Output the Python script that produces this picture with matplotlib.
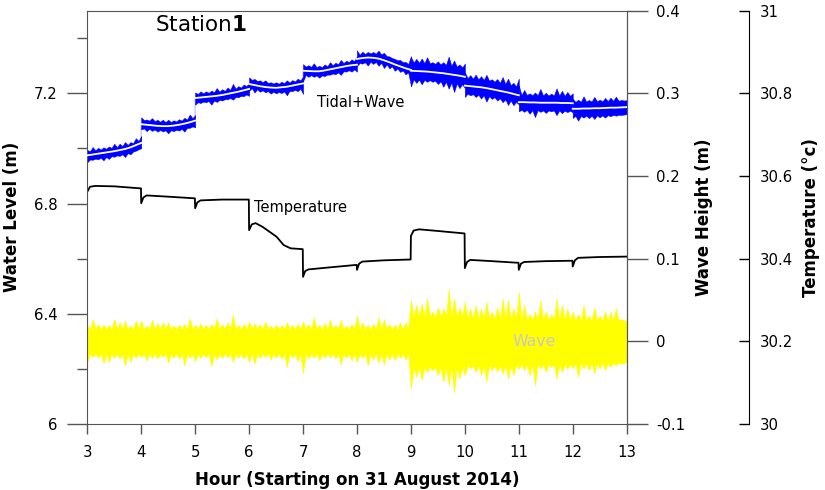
import numpy as np
import matplotlib
matplotlib.use("Agg")
import matplotlib.pyplot as plt

plt.rcParams['font.family'] = ['DejaVu Sans']
plt.rcParams['mathtext.fontset'] = 'dejavusans'

# hourly sample grid, 3h .. 13h every 0.1h
hours = np.linspace(3, 13, 101)

# wave envelope (m), upper and lower extremes per 0.1h
wave_hi = [0.019, 0.027, 0.021, 0.020, 0.020, 0.027, 0.023, 0.025, 0.019, 0.025,
           0.025, 0.019, 0.026, 0.022, 0.023, 0.023, 0.019, 0.020, 0.021, 0.028,
           0.020, 0.022, 0.020, 0.021, 0.028, 0.021, 0.023, 0.032, 0.020, 0.021,
           0.024, 0.022, 0.021, 0.024, 0.019, 0.020, 0.020, 0.023, 0.020, 0.021,
           0.024, 0.021, 0.029, 0.020, 0.022, 0.026, 0.020, 0.026, 0.019, 0.021,
           0.031, 0.023, 0.020, 0.021, 0.029, 0.027, 0.021, 0.020, 0.023, 0.023,
           0.050, 0.044, 0.046, 0.052, 0.036, 0.041, 0.040, 0.063, 0.052, 0.041,
           0.048, 0.040, 0.044, 0.040, 0.048, 0.036, 0.041, 0.052, 0.050, 0.040,
           0.060, 0.044, 0.033, 0.036, 0.050, 0.036, 0.033, 0.052, 0.044, 0.040,
           0.036, 0.033, 0.044, 0.031, 0.041, 0.031, 0.036, 0.036, 0.040, 0.027,
           0.025]
wave_lo = [-0.025, -0.019, -0.020, -0.027, -0.025, -0.020, -0.021, -0.029, -0.025, -0.020,
           -0.019, -0.023, -0.020, -0.021, -0.019, -0.026, -0.020, -0.021, -0.029, -0.020,
           -0.024, -0.020, -0.019, -0.030, -0.022, -0.020, -0.019, -0.025, -0.020, -0.021,
           -0.025, -0.027, -0.020, -0.019, -0.022, -0.020, -0.021, -0.031, -0.020, -0.024,
           -0.038, -0.021, -0.020, -0.023, -0.020, -0.019, -0.021, -0.028, -0.020, -0.023,
           -0.025, -0.020, -0.029, -0.022, -0.026, -0.028, -0.022, -0.023, -0.020, -0.022,
           -0.057, -0.043, -0.047, -0.037, -0.035, -0.041, -0.049, -0.053, -0.062, -0.045,
           -0.041, -0.033, -0.037, -0.041, -0.049, -0.035, -0.037, -0.039, -0.045, -0.041,
           -0.033, -0.035, -0.041, -0.053, -0.033, -0.037, -0.031, -0.045, -0.037, -0.033,
           -0.033, -0.043, -0.033, -0.035, -0.039, -0.033, -0.035, -0.031, -0.029, -0.027,
           -0.025]

# typical wave level between the spikes, one value per hour
core_hi = [0.015, 0.015, 0.015, 0.015, 0.015, 0.015, 0.030, 0.027, 0.026, 0.025]
core_lo = [-0.015, -0.015, -0.015, -0.015, -0.015, -0.015, -0.031, -0.029, -0.028, -0.026]

# tidal water level (m), one list per logged hour, sampled every 0.1h
tide = [
    [6.975, 6.978, 6.981, 6.984, 6.987, 6.990, 6.994, 6.998, 7.004, 7.012, 7.020],
    [7.088, 7.086, 7.084, 7.082, 7.081, 7.081, 7.083, 7.086, 7.090, 7.095, 7.101],
    [7.183, 7.185, 7.187, 7.189, 7.191, 7.194, 7.198, 7.202, 7.206, 7.211, 7.216],
    [7.234, 7.230, 7.226, 7.223, 7.221, 7.220, 7.222, 7.224, 7.228, 7.232, 7.236],
    [7.282, 7.281, 7.280, 7.280, 7.283, 7.287, 7.291, 7.295, 7.299, 7.302, 7.304],
    [7.325, 7.328, 7.330, 7.329, 7.326, 7.320, 7.313, 7.305, 7.298, 7.291, 7.285],
    [7.282, 7.281, 7.280, 7.279, 7.277, 7.275, 7.273, 7.270, 7.267, 7.264, 7.260],
    [7.228, 7.226, 7.224, 7.222, 7.219, 7.215, 7.211, 7.207, 7.203, 7.198, 7.193],
    [7.168, 7.168, 7.167, 7.167, 7.166, 7.166, 7.166, 7.166, 7.165, 7.165, 7.164],
    [7.144, 7.144, 7.145, 7.145, 7.146, 7.146, 7.147, 7.148, 7.148, 7.149, 7.150],
]

# water temperature (deg C)
temp_t = [3.0, 3.05, 3.15, 3.5, 3.995,
          4.0, 4.04, 4.1, 4.5, 4.995,
          5.0, 5.04, 5.1, 5.5, 5.995,
          6.0, 6.05, 6.12, 6.25, 6.38, 6.51, 6.64, 6.77, 6.995,
          7.0, 7.04, 7.1, 7.5, 7.995,
          8.0, 8.04, 8.1, 8.5, 8.995,
          9.0, 9.05, 9.15, 9.5, 9.995,
          10.0, 10.04, 10.1, 10.5, 10.995,
          11.0, 11.04, 11.1, 11.5, 11.995,
          12.0, 12.04, 12.1, 12.5, 13.0]
temp_v = [30.562, 30.574, 30.576, 30.575, 30.570,
          30.534, 30.548, 30.553, 30.550, 30.546,
          30.522, 30.536, 30.541, 30.543, 30.543,
          30.469, 30.483, 30.486, 30.477, 30.465, 30.453, 30.433, 30.425, 30.423,
          30.356, 30.370, 30.374, 30.379, 30.385,
          30.373, 30.388, 30.393, 30.396, 30.398,
          30.455, 30.468, 30.471, 30.467, 30.461,
          30.377, 30.392, 30.397, 30.394, 30.390,
          30.373, 30.388, 30.392, 30.394, 30.395,
          30.381, 30.396, 30.402, 30.404, 30.405]

level_ticks = [6, 6.4, 6.8, 7.2]
level_labels = ['6', '6.4', '6.8', '7.2']
level_minor = [6.2, 6.6, 7.0, 7.4]
wave_ticks = [-0.1, 0, 0.1, 0.2, 0.3, 0.4]
wave_labels = ['-0.1', '0', '0.1', '0.2', '0.3', '0.4']
temp_ticks = [30, 30.2, 30.4, 30.6, 30.8, 31]
temp_labels = ['30', '30.2', '30.4', '30.6', '30.8', '31']
hour_ticks = list(range(3, 14))

frame = '#555555'
fs = 10.7


def spiky(x, peaks, base, offset):
    # spikes at the samples, dropping back to the typical level in between
    xs, ys = [], []
    for i in range(len(x)):
        xs.append(x[i])
        ys.append(offset[i] + peaks[i])
        if i < len(x) - 1:
            xs.append(0.5 * (x[i] + x[i + 1]))
            ys.append(offset[i] + base[i])
    return np.array(xs), np.array(ys)


hour_idx = np.minimum(np.floor(hours - 3 + 1e-9).astype(int), 9)
base_hi = np.array(core_hi)[hour_idx]
base_lo = np.array(core_lo)[hour_idx]
zero = np.zeros(len(hours))

fig = plt.figure(figsize=(8.25, 4.9), dpi=100)
ax = fig.add_axes([0.1058, 0.1347, 0.6538, 0.8435])
ax2 = ax.twinx()
ax3 = ax.twinx()
ax.set_zorder(3)
ax.patch.set_visible(False)

# wave height (yellow) on the first right axis
xu, yu = spiky(hours, wave_hi, base_hi, zero)
xl, yl = spiky(hours, wave_lo, base_lo, zero)
ax2.fill_between(xu, yl, yu, color='#ffff00', lw=0.4, edgecolor='#ffff00')
ax2.text(10.88, 0.0, 'Wave', color='#c8c8c8', fontsize=11.3, va='center')

# temperature on the outer right axis
ax3.plot(temp_t, temp_v, color='black', lw=1.3)

# tidal + wave signal with the tidal trend in white
jt, jv = [], []
for k, seg in enumerate(tide):
    sl = slice(10 * k, 10 * k + 11)
    x = hours[sl]
    seg = np.array(seg)
    xu, yu = spiky(x, wave_hi[sl], base_hi[sl], seg)
    xl, yl = spiky(x, wave_lo[sl], base_lo[sl], seg)
    ax.fill_between(xu, yl, yu, color='#0000ff', lw=0.4, edgecolor='#0000ff', zorder=2)
    ax.plot(x, seg, color='white', lw=1.3, zorder=4)
    jt.extend(x)
    jv.extend(seg)
ax.plot(jt, jv, color='#c8c8ff', lw=1, zorder=1)

ax.text(7.25, 7.167, 'Tidal+Wave', fontsize=10.5, va='center')
ax.text(6.10, 6.785, 'Temperature', fontsize=10.5, va='center')
ax.text(4.25, 7.447, r'Station$\mathbf{1}$', fontsize=15.5, va='center')

# main axis: water level
ax.set_xlim(3, 13)
ax.set_ylim(6, 7.5)
ax.set_xticks(hour_ticks)
ax.set_xticklabels([str(h) for h in hour_ticks], fontsize=fs)
ax.set_yticks(level_ticks)
ax.set_yticklabels(level_labels, fontsize=fs)
ax.set_yticks(level_minor, minor=True)
ax.tick_params(axis='y', which='major', length=14.5, width=1, color=frame, pad=7)
ax.tick_params(axis='y', which='minor', length=7, width=1, color=frame)
ax.tick_params(axis='x', which='major', length=7, width=1, color=frame, pad=8)
ax.set_xlabel('Hour (Starting on 31 August 2014)', fontsize=12, fontweight='bold', labelpad=8)
ax.set_ylabel('Water Level (m)', fontsize=12, fontweight='bold', labelpad=9)
for s in ax.spines.values():
    s.set_color(frame)

ax2.set_ylim(-0.1, 0.4)
ax2.set_yticks(wave_ticks)
ax2.set_yticklabels(wave_labels, fontsize=fs)
ax2.tick_params(axis='y', length=15, width=1, color=frame, pad=6)
ax2.set_ylabel('Wave Height (m)', fontsize=12, fontweight='bold', labelpad=7)
for name in ['top', 'left', 'bottom']:
    ax2.spines[name].set_visible(False)
ax2.spines['right'].set_color(frame)

ax3.set_ylim(30, 31)
ax3.spines['right'].set_position(('axes', 1.2267))
for name in ['top', 'left', 'bottom']:
    ax3.spines[name].set_visible(False)
ax3.set_yticks(temp_ticks)
ax3.set_yticklabels(temp_labels, fontsize=fs)
ax3.tick_params(axis='y', direction='in', length=7, width=1, pad=8)
ax3.set_ylabel('Temperature (°c)', fontsize=12, fontweight='bold', labelpad=6)

fig.savefig('out.png', dpi=100)
